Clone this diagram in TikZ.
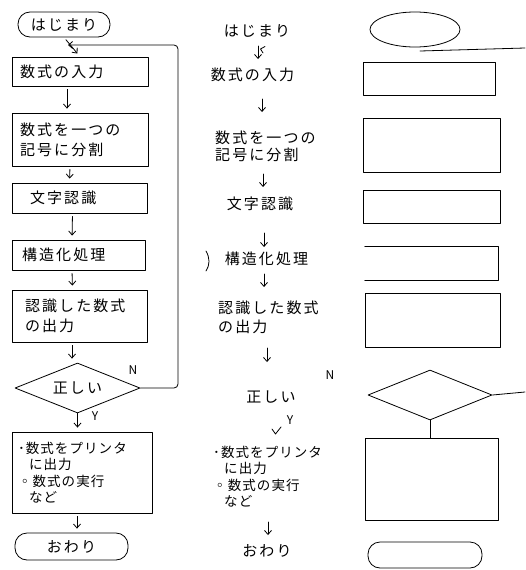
\documentclass[tikz,border=0pt]{standalone}
\usepackage{fontspec}
\setmainfont{Noto Sans CJK JP}
\newfontfamily\jpfont{Noto Sans CJK JP}[LetterSpace=14]
\newfontfamily\jpfontb{Noto Sans CJK JP}[LetterSpace=8]
\usetikzlibrary{arrows.meta,shapes.geometric}
\tikzset{
  pen/.style={line width=0.8pt, line cap=round, line join=round},
  arr/.style={pen, -{Straight Barb[length=4pt,width=7pt]}, shorten <=3pt, shorten >=4pt},
  marr/.style={pen, -{Straight Barb[length=4pt,width=7pt]}},
  jp/.style={font=\fontsize{15}{20}\selectfont\jpfont},
  jpsmall/.style={font=\fontsize{13.5}{16.5}\selectfont\jpfontb},
  box/.style={pen, draw, rectangle, align=left, inner ysep=0pt, jp},
  term/.style={pen, draw, rectangle, rounded corners=12pt, inner sep=0pt, jp},
  dia/.style={pen, draw, diamond, shape aspect=2.5, inner sep=0pt},
  txt/.style={jp, inner sep=0pt, align=left},
  lbl/.style={font=\fontsize{12}{12}\selectfont, inner sep=0pt},
  rbox/.style={pen, draw, rectangle, inner sep=0pt},
}
\begin{document}
\begin{tikzpicture}[x=1pt,y=-1pt]
\useasboundingbox (0,0) rectangle (525,570);
% ---------------- left column: full flowchart ----------------
\node[term, minimum width=92pt, minimum height=25pt] (ls) at (64,24.5) {はじまり};
\node[box, text width=120pt, inner xsep=8pt, minimum height=29pt] (b1) at (80,71.5) {数式の入力};
\node[box, text width=120pt, inner xsep=8pt, minimum height=53pt] (b2) at (80,139.5) {数式を一つの\\記号に分割};
\node[box, text width=99pt, inner xsep=18pt, minimum height=30pt] (b3) at (79.5,198) {文字認識};
\node[box, text width=113pt, inner xsep=10pt, minimum height=30pt] (b4) at (78.5,255) {構造化処理};
\node[box, text width=109pt, inner xsep=13pt, minimum height=52pt] (b5) at (79.5,316) {認識した数式\\の出力};
\node[dia, minimum width=125pt, minimum height=50pt, jp] (dec) at (77.5,388) {正しい};
\node[box, jpsmall, text width=128pt, inner xsep=6pt, minimum height=81pt] (b6) at (82,472.5)
  {･数式をプリンタ\\\hspace*{11pt}に出力\\◦数式の実行\\\hspace*{11pt}など};
\node[term, minimum width=113pt, minimum height=27pt] (le) at (71.5,546.5) {おわり};
\node[lbl] (lN) at (133,370) {N};
\node[lbl] (lY) at (95,416) {Y};
\coordinate (loopend) at (68,45);

\draw[arr] (ls.south) -- (b1.north);
\draw[arr] ([xshift=-13pt]b1.south) -- ([xshift=-13pt]b2.north);
\draw[arr] ([xshift=-10pt]b2.south) -- ([xshift=-10pt]b3.north);
\draw[arr] ([xshift=-7pt]b3.south) -- ([xshift=-6.5pt]b4.north);
\draw[arr] ([xshift=-6.5pt]b4.south) -- ([xshift=-7pt]b5.north);
\draw[arr] ([xshift=-7.5pt]b5.south) -- ([xshift=-5.5pt]dec.north);
\draw[arr, shorten <=0pt] (dec.south) -- (dec.south |- b6.north);
\draw[arr] ([xshift=-5pt]b6.south) -- ([xshift=-5pt]b6.south |- le.north);
\draw[pen, -{Straight Barb[length=4pt,width=7pt]}, rounded corners=4pt] (dec.east) -| (178,45) -- (loopend);

% ---------------- middle column: texts only ----------------
\node[txt] (m0) at (257,31) {はじまり};
\node[txt] (m1) at (252.5,75) {数式の入力};
\node[txt, anchor=west, font=\fontsize{15}{17}\selectfont\jpfont] (m2) at (215,146) {数式を一つの\\記号に分割};
\node[txt] (m3) at (260,204) {文字認識};
\node[txt] (m4) at (266.5,259) {構造化処理};
\node[txt, anchor=west, font=\fontsize{15}{19}\selectfont\jpfont] (m5) at (218,317) {認識した数式\\の出力};
\node[lbl] (mN) at (330,375) {N};
\node[txt] (m6) at (271,397) {正しい};
\node[lbl] (mY) at (290,420) {Y};
\node[txt, anchor=west, jpsmall] (m7) at (213,476.5) {･数式をプリンタ\\\hspace*{11pt}に出力\\◦数式の実行\\\hspace*{11pt}など};
\node[txt] (m8) at (267,551) {おわり};

\coordinate (ma1s) at (258,46); \coordinate (ma1e) at (258,59);
\coordinate (ma2s) at (262,99); \coordinate (ma2e) at (262,112);
\coordinate (ma3s) at (263,174); \coordinate (ma3e) at (263,187);
\coordinate (ma4s) at (264,233); \coordinate (ma4e) at (264,247);
\coordinate (ma5s) at (264,274); \coordinate (ma5e) at (264,287);
\coordinate (ma6s) at (267,348); \coordinate (ma6e) at (267,362);
\coordinate (ma8s) at (268,522); \coordinate (ma8e) at (268,535);
\draw[marr] (ma1s) -- (ma1e);
\draw[marr] (ma2s) -- (ma2e);
\draw[marr] (ma3s) -- (ma3e);
\draw[marr] (ma4s) -- (ma4e);
\draw[marr] (ma5s) -- (ma5e);
\draw[marr] (ma6s) -- (ma6e);
\draw[marr] (ma8s) -- (ma8e);
% loose marks
\draw[pen] (265,46.5) -- (260.5,49) -- (263,53);
\draw[pen] (272,429) -- (275.5,434) -- (281,427);
\draw[pen] (206,251) .. controls (210,258) and (210,265) .. (206,271);

% ---------------- right column: shapes only ----------------
\node[pen, draw, ellipse, minimum width=90pt, minimum height=35pt, inner sep=0pt] (rs) at (415,29.5) {};
\coordinate (rl1) at (420,51); \coordinate (rl2) at (525,48);
\draw[pen] (rl1) -- (rl2);
\node[rbox, minimum width=132pt, minimum height=33pt] (r1) at (429,78.5) {};
\node[rbox, minimum width=137pt, minimum height=54pt] (r2) at (431.5,145) {};
\node[rbox, minimum width=137pt, minimum height=33pt] (r3) at (431.5,206.5) {};
\node[inner sep=0pt, minimum width=133pt, minimum height=33pt] (r4) at (431.5,263.5) {};
\draw[pen] (r4.north west) -- (r4.north east) -- (r4.south east) -- (r4.south west);
\node[rbox, minimum width=135pt, minimum height=54pt] (r5) at (432.5,320) {};
\node[dia, minimum width=124pt, minimum height=50pt] (rd) at (430,395) {};
\coordinate (rde) at (525,392);
\draw[pen] (rd.east) -- (rde);
\node[rbox, minimum width=133pt, minimum height=82pt] (r6) at (431.5,479) {};
\draw[pen] (rd.south) -- (rd.south |- r6.north);
\node[pen, draw, rectangle, rounded corners=12pt, minimum width=114pt, minimum height=26pt, inner sep=0pt] (re) at (425,555) {};
\end{tikzpicture}
\end{document}
